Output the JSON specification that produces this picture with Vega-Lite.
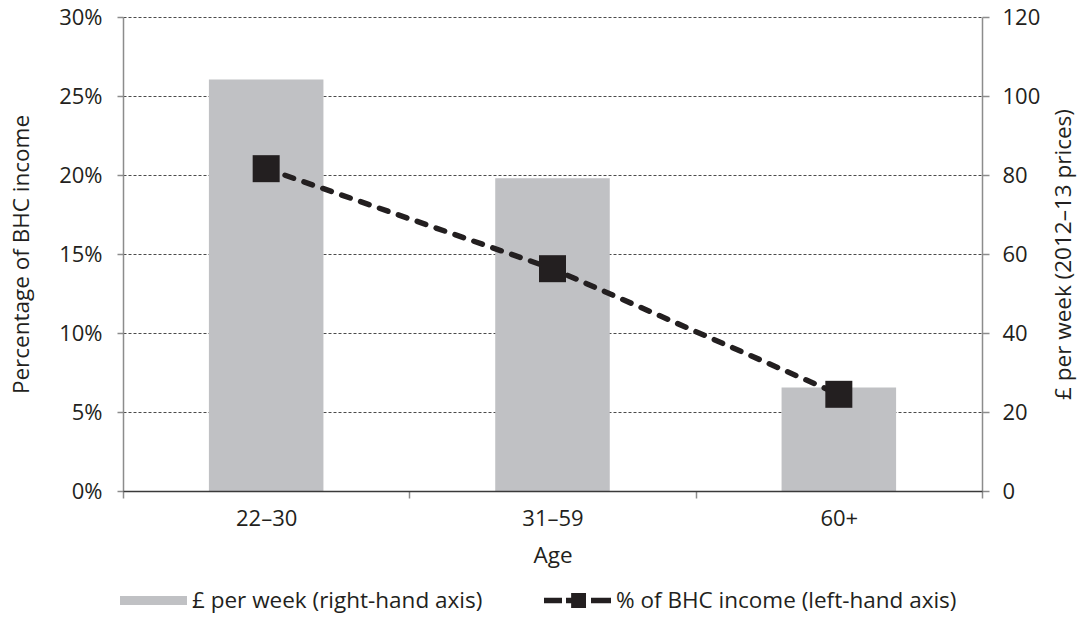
{
  "$schema": "https://vega.github.io/schema/vega-lite/v6.json",
  "width": 859,
  "height": 474,
  "autosize": "none",
  "padding": {"left": 123, "top": 17, "right": 97, "bottom": 126},
  "data": {
    "values": [
      {"age": "22–30", "pounds": 104.2, "pct": 0.204},
      {"age": "31–59", "pounds": 79.2, "pct": 0.1407},
      {"age": "60+", "pounds": 26.2, "pct": 0.0612}
    ]
  },
  "encoding": {
    "x": {
      "field": "age",
      "type": "nominal",
      "sort": null,
      "scale": {"paddingInner": 0, "paddingOuter": 0},
      "axis": {
        "title": "Age",
        "labelAngle": 0,
        "tickBand": "extent",
        "tickSize": 7,
        "tickColor": "#8c8c8c",
        "tickWidth": 1.5,
        "domainColor": "#3a3a3a",
        "domainWidth": 1.5,
        "labelPadding": 10,
        "labelFontSize": 22,
        "titleFontSize": 22.5,
        "titleFontWeight": "normal",
        "titleBaseline": "alphabetic",
        "titleX": 429.5,
        "titleY": 71,
        "zindex": 1
      }
    }
  },
  "layer": [
    {
      "mark": {"type": "bar", "color": "#c0c1c4", "width": {"band": 0.4}},
      "encoding": {
        "y": {
          "field": "pounds",
          "type": "quantitative",
          "scale": {"domain": [0, 120], "nice": false},
          "axis": {
            "orient": "right",
            "title": "£ per week (2012–13 prices)",
            "values": [0, 20, 40, 60, 80, 100, 120],
            "grid": false,
            "tickSize": 7,
            "tickColor": "#8c8c8c",
            "tickWidth": 1.5,
            "domainColor": "#8c8c8c",
            "domainWidth": 1.5,
            "labelPadding": 13,
            "labelFontSize": 22,
            "titleFontSize": 22.5,
            "titleFontWeight": "normal",
            "titleAngle": 270,
            "titleBaseline": "alphabetic",
            "titleAlign": "center",
            "titleX": 88,
            "titleY": 237
          }
        },
        "color": {
          "datum": "£ per week (right-hand axis)",
          "type": "nominal",
          "scale": {
            "domain": ["£ per week (right-hand axis)", "% of BHC income (left-hand axis)"],
            "range": ["#c0c1c4", "#231f20"]
          },
          "legend": {
            "title": null,
            "orient": "none",
            "direction": "horizontal",
            "legendX": -3,
            "legendY": 550,
            "padding": 0,
            "symbolSize": 4489,
            "labelFontSize": 22.5,
            "labelColor": "#231f20",
            "labelLimit": 1000,
            "labelOffset": 5,
            "columnPadding": 61,
            "encode": {
              "symbols": {
                "update": {
                  "shape": {"signal": "datum.label === '£ per week (right-hand axis)' ? 'M-1,-0.134H1V0.134H-1Z' : 'M-1,-0.08H-0.463V0.08H-1Z M-0.343,-0.08H-0.19V0.08H-0.343Z M-0.19,-0.224H0.254V0.224H-0.19Z M0.403,-0.08H1V0.08H0.403Z'"},
                  "fill": {"signal": "datum.label === '£ per week (right-hand axis)' ? '#c0c1c4' : '#231f20'"},
                  "fillOpacity": {"value": 1},
                  "opacity": {"value": 1},
                  "stroke": {"value": "transparent"},
                  "strokeWidth": {"value": 0}
                }
              }
            }
          }
        }
      }
    },
    {
      "mark": {"type": "line", "strokeWidth": 5.5, "strokeDash": [9, 11], "strokeCap": "round"},
      "encoding": {
        "y": {
          "field": "pct",
          "type": "quantitative",
          "scale": {"domain": [0, 0.3], "nice": false},
          "axis": {
            "orient": "left",
            "title": "Percentage of BHC income",
            "format": ".0%",
            "values": [0, 0.05, 0.1, 0.15, 0.2, 0.25, 0.3],
            "grid": true,
            "gridColor": "#4a4a4a",
            "gridDash": [3, 2],
            "gridWidth": 1,
            "tickSize": 6,
            "tickColor": "#8c8c8c",
            "tickWidth": 1.5,
            "domainColor": "#8c8c8c",
            "domainWidth": 1.5,
            "labelPadding": 15,
            "labelFontSize": 22,
            "titleFontSize": 22.5,
            "titleFontWeight": "normal",
            "titleAngle": 270,
            "titleBaseline": "alphabetic",
            "titleAlign": "center",
            "titleX": -95,
            "titleY": 237
          }
        },
        "color": {"datum": "% of BHC income (left-hand axis)", "type": "nominal"}
      }
    },
    {
      "mark": {"type": "square", "size": 729, "filled": true, "opacity": 1, "color": "#231f20"},
      "encoding": {
        "y": {"field": "pct", "type": "quantitative", "scale": {"domain": [0, 0.3], "nice": false}, "axis": null}
      }
    }
  ],
  "resolve": {"scale": {"y": "independent"}},
  "config": {
    "font": "Open Sans",
    "view": {"stroke": null},
    "axis": {"labelColor": "#231f20", "titleColor": "#231f20", "labelFont": "Open Sans", "titleFont": "Open Sans"},
    "legend": {"labelFont": "Open Sans"}
  }
}
